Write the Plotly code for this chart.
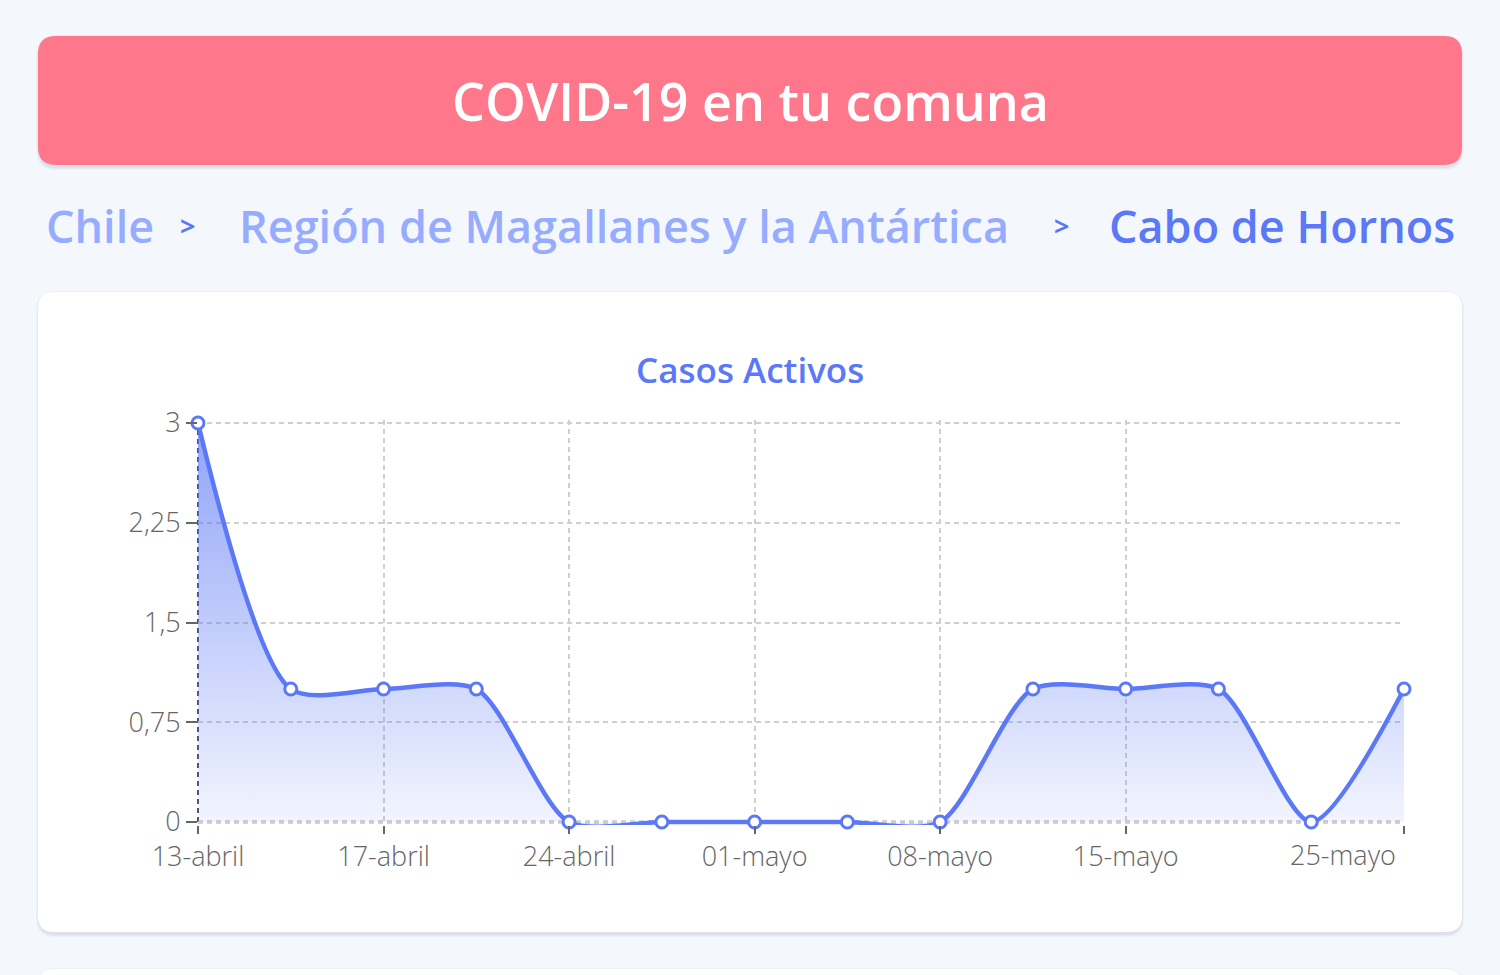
import plotly.graph_objects as go

# ---- data ----
dates = ["13-abril", "15-abril", "17-abril", "20-abril", "24-abril", "27-abril",
         "01-mayo", "04-mayo", "08-mayo", "11-mayo", "15-mayo", "18-mayo",
         "22-mayo", "25-mayo"]
casos_activos = [3, 1, 1, 1, 0, 0, 0, 0, 0, 1, 1, 1, 0, 1]
label_idx = [0, 2, 4, 6, 8, 10, 13]
y_tickvals = [0, 0.75, 1.5, 2.25, 3]
y_ticktext = ["0", "0,75", "1,5", "2,25", "3"]

title_text = "COVID-19 en tu comuna"
crumbs = ["Chile", "Región de Magallanes y la Antártica", "Cabo de Hornos"]
chart_title = "Casos Activos"

# ---- layout geometry (pixels) ----
W, H = 1500, 975
Y0PX, Y3PX = 822, 423          # pixel rows of y=0 and y=3
PAD = 3                         # extra room so the thick line is not clipped
PL, PR = 198, 1404
PT, PB = Y3PX - PAD, Y0PX + PAD
ypad = 3 * PAD / (Y0PX - Y3PX)

BLUE = "#5b78f6"
LIGHTBLUE = "#97acff"
PINK = "#ff778b"
BG = "#f4f8fd"
FONT = "Open Sans"
TICKC = "#666666"
TICKSIZE = 27


def px(x):
    return (x - PL) / (PR - PL)


def py(y):
    return (PB - y) / (PB - PT)


def rrect(x0, y0, x1, y1, r):
    pts = [
        ("M", [(x0 + r, y0)]), ("L", [(x1 - r, y0)]), ("Q", [(x1, y0), (x1, y0 + r)]),
        ("L", [(x1, y1 - r)]), ("Q", [(x1, y1), (x1 - r, y1)]),
        ("L", [(x0 + r, y1)]), ("Q", [(x0, y1), (x0, y1 - r)]),
        ("L", [(x0, y0 + r)]), ("Q", [(x0, y0), (x0 + r, y0)]),
    ]
    s = ""
    for cmd, ps in pts:
        s += cmd + " " + " ".join(f"{px(a):.6f},{py(b):.6f}" for a, b in ps) + " "
    return s + "Z"


shapes = []


def card(x0, y0, x1, y1, r, color, shadow=True):
    if shadow:
        for i, a in enumerate([0.035, 0.035, 0.045]):
            d = 3 - i
            shapes.append(dict(type="path", xref="paper", yref="paper", layer="below",
                               path=rrect(x0 - d + 1, y0 - d + 2, x1 + d - 1, y1 + d + 2, r + d),
                               fillcolor=f"rgba(40,50,90,{a})", line=dict(width=0)))
    shapes.append(dict(type="path", xref="paper", yref="paper", layer="below",
                       path=rrect(x0, y0, x1, y1, r), fillcolor=color, line=dict(width=0)))


card(38, 36, 1462, 165, 18, PINK)
card(38, 292, 1462, 932, 16, "#ffffff")
card(38, 969, 1462, 1060, 16, "#ffffff")

# dashed axis lines (left and bottom), above the grid, below the data
shapes.append(dict(type="line", xref="paper", yref="y", x0=0, x1=1, y0=0, y1=0,
                   line=dict(color="#555555", width=2.5, dash="5px,4px"), layer="between"))
shapes.append(dict(type="line", xref="paper", yref="y", x0=0, x1=0, y0=0, y1=3,
                   line=dict(color="#555555", width=2, dash="5px,4px"), layer="between"))


def ann(text, xp, yp, size, color, weight, anchor="center"):
    return dict(text=text, x=px(xp), y=py(yp), xref="paper", yref="paper", showarrow=False,
                xanchor=anchor, yanchor="middle",
                font=dict(size=size, color=color, family=FONT, weight=weight))


annotations = [
    ann(title_text, 750, 100, 52, "white", 600),
    ann(crumbs[0], 44, 225, 45, LIGHTBLUE, 600, "left"),
    ann("&gt;", 187, 225, 27, BLUE, 700),
    ann(crumbs[1], 624, 225, 45, LIGHTBLUE, 600),
    ann("&gt;", 1061, 225, 27, BLUE, 700),
    ann(crumbs[2], 1457, 225, 45, BLUE, 600, "right"),
    ann(chart_title, 750, 369, 35, BLUE, 600),
]

# last x label shifted left to stay inside the chart
annotations.append(dict(text=dates[label_idx[-1]], x=label_idx[-1], y=0, xref="x", yref="y",
                        showarrow=False, xanchor="right", yanchor="top", xshift=-6, yshift=-12,
                        font=dict(size=TICKSIZE, color=TICKC, family=FONT, weight=300)))

ticktext = [dates[i] for i in label_idx[:-1]] + [""]

fig = go.Figure()
fig.add_trace(go.Scatter(
    x=list(range(len(dates))), y=casos_activos,
    mode="lines+markers",
    line=dict(color=BLUE, width=4.5, shape="spline", smoothing=0.75),
    marker=dict(size=12, color="white", line=dict(color=BLUE, width=3)),
    fill="tozeroy",
    fillgradient=dict(type="vertical", start=0, stop=3,
                      colorscale=[[0, "rgba(91,120,246,0.08)"], [1, "rgba(91,120,246,0.68)"]]),
    cliponaxis=False,
    hoverinfo="skip",
))

fig.update_layout(
    width=W, height=H, autosize=False,
    margin=dict(l=PL, r=W - PR, t=PT, b=H - PB, pad=0),
    paper_bgcolor=BG, plot_bgcolor="rgba(0,0,0,0)",
    showlegend=False,
    shapes=shapes, annotations=annotations,
    font=dict(family=FONT, color=TICKC),
    xaxis=dict(range=[0, len(dates) - 1], tickmode="array", tickvals=label_idx, ticktext=ticktext,
               showgrid=True, gridcolor="#cfcfcf", griddash="5px,4px", gridwidth=1.5,
               zeroline=False, showline=False, ticks="outside", ticklen=11 - PAD, tickwidth=2,
               tickcolor=TICKC, tickfont=dict(size=TICKSIZE, color=TICKC, family=FONT, weight=300)),
    yaxis=dict(range=[-ypad, 3 + ypad], tickmode="array", tickvals=y_tickvals, ticktext=y_ticktext,
               showgrid=True, gridcolor="#cfcfcf", griddash="5px,4px", gridwidth=1.5,
               zeroline=False, showline=False, ticks="outside", ticklen=11, tickwidth=2,
               tickcolor=TICKC, tickfont=dict(size=TICKSIZE, color=TICKC, family=FONT, weight=300)),
)

fig.write_html("out.html")
